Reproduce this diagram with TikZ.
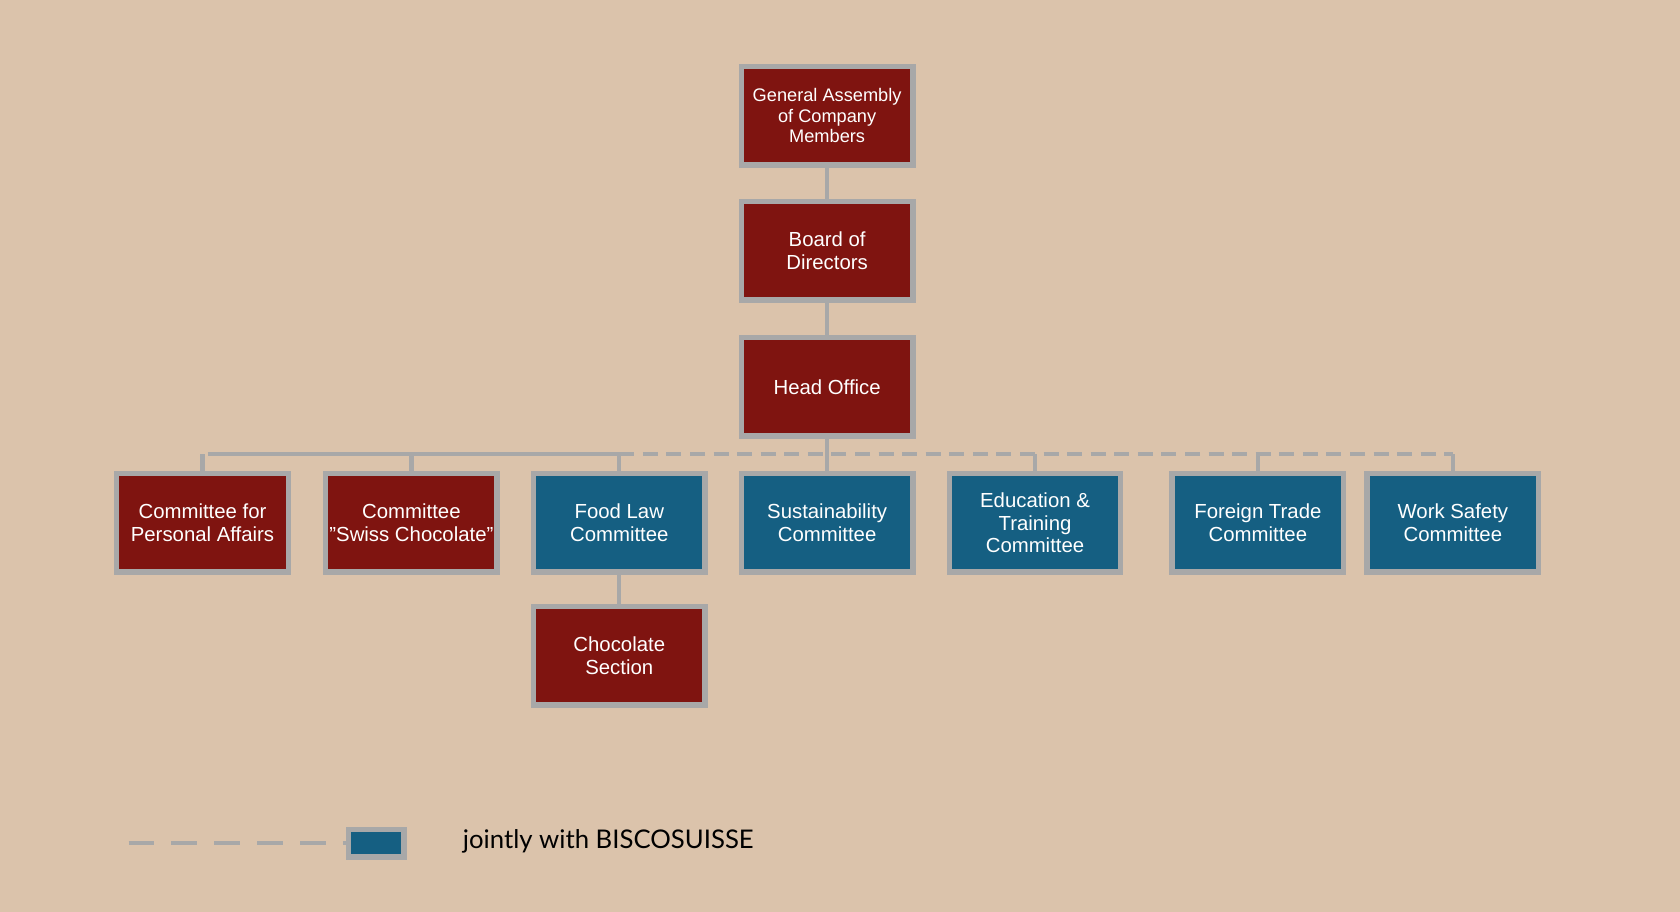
\documentclass[tikz,border=0pt]{standalone}
\usepackage{fontspec}
\setmainfont{Liberation Sans}
\newfontfamily\legendfont{Lato}
\usetikzlibrary{positioning}
\definecolor{bgtan}{HTML}{DBC3AB}
\definecolor{boxred}{HTML}{7F1410}
\definecolor{boxblue}{HTML}{155F82}
\definecolor{linegray}{HTML}{A8A8A8}
\tikzset{
    unit/.style={draw=linegray, line width=2.5pt, text=white, minimum width=80pt, minimum height=46pt, align=center, font=\fontsize{9.5}{10.5}\selectfont, inner sep=1pt},
    own/.style={unit, fill=boxred},
    joint/.style={unit, fill=boxblue},
    link/.style={draw=linegray, line width=2pt},
    jointlink/.style={link, dash pattern=on 7pt off 4pt}
}
\begin{document}
\begin{tikzpicture}[x=0.5pt, y=-0.5pt]
    \fill[bgtan] (0,0) rectangle (1568,851);
    \useasboundingbox (0,0) rectangle (1568,851);

    % Top chain
    \node[own, font=\fontsize{8.5}{9.5}\selectfont] (Assembly) at (772,108) {General Assembly\\of Company\\Members};
    \node[own] (Board) at (772,234) {Board of\\Directors};
    \node[own] (Head) at (772,361) {Head Office};

    % Committees
    \node[own] (Personal) at (189,488) {Committee for\\Personal Affairs};
    \node[own] (Swiss) at (384,488) {Committee\\"Swiss Chocolate"};
    \node[joint] (FoodLaw) at (578,488) {Food Law\\Committee};
    \node[joint] (Sustain) at (772,488) {Sustainability\\Committee};
    \node[joint] (Education) at (966,488) {Education \&\\Training\\Committee};
    \node[joint] (Foreign) at (1174,488) {Foreign Trade\\Committee};
    \node[joint] (Safety) at (1356,488) {Work Safety\\Committee};
    \node[own] (Section) at (578,612) {Chocolate\\Section};

    % Connectors
    \draw[link] (Assembly) -- (Board);
    \draw[link] (Board) -- (Head);
    \draw[link] (FoodLaw) -- (Section);
    \coordinate (BusL) at (194,424);
    \coordinate (BusM) at (578,424);
    \coordinate (BusR) at (1356,424);
    \draw[link] (BusL) -- (BusM);
    \draw[jointlink] (BusM) -- (BusR);
    \draw[link] (Head.south) -- (Head.south |- BusM);
    \foreach \n in {Personal, Swiss, FoodLaw, Sustain, Education, Foreign, Safety}
        \draw[link] (\n.north |- BusM) -- (\n.north);

    % Legend
    \node[joint, minimum width=26pt, minimum height=13pt] (LegendBox) at (351,787) {};
    \coordinate (LegendStart) at (120,787);
    \draw[jointlink, dash pattern=on 12pt off 8pt] (LegendStart) -- (LegendBox.west);
    \node[anchor=west, font=\legendfont\fontsize{12}{14}\selectfont] (LegendText) at (425,785) {jointly with BISCOSUISSE};
\end{tikzpicture}
\end{document}
